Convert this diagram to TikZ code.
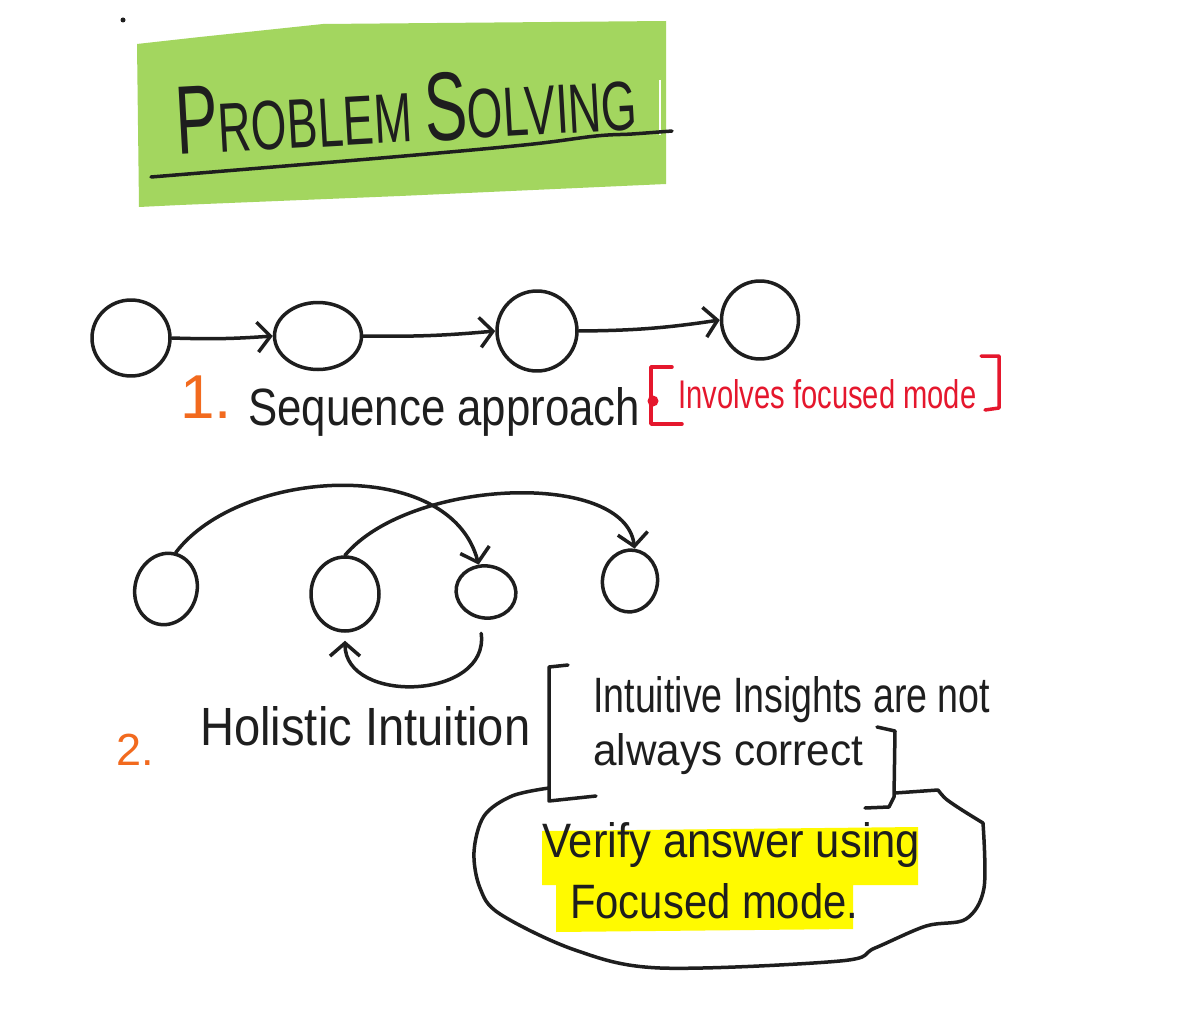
\documentclass[tikz,border=0pt]{standalone}
\usepackage{fontspec}
\usepackage{graphicx}
\setmainfont{Liberation Sans}
\usetikzlibrary{arrows.meta,shapes.geometric}
\definecolor{titlegreen}{HTML}{A3D65F}
\definecolor{penred}{HTML}{E5172D}
\definecolor{penorange}{HTML}{F26A1E}
\definecolor{hlyellow}{HTML}{FFFA00}
\definecolor{ink}{HTML}{1E1E1E}
\begin{document}
\begin{tikzpicture}[x=1pt,y=-1pt,
  pen/.style={line width=3.5pt, line cap=round, line join=round},
  bubble/.style={pen, draw=ink, ellipse, inner sep=0pt},
  link/.style={pen, draw=ink, -{Straight Barb[length=13pt,width=30pt]}},
  hand/.style={inner sep=0pt, anchor=base west, text=ink},
]
\useasboundingbox[fill=white] (0,0) rectangle (1203,1014);

% stray dot
\fill[ink] (123,20) circle (2.5);

% title block
\fill[titlegreen] (137,44) -- (200,37) -- (323,24) -- (666,21) -- (666,184) -- (400,196) -- (180,205) -- (139,207) -- cycle;
\draw[white, line width=2pt] (660,80) -- (660,135);
\node[hand, rotate=3.2] (title) at (177,155)
  {\resizebox{462pt}{68pt}{\fontsize{60}{60}\selectfont P\fontsize{43}{43}\selectfont ROBLEM\ \fontsize{60}{60}\selectfont S\fontsize{43}{43}\selectfont OLVING}};
\draw[pen, draw=ink] plot[smooth, tension=0.6] coordinates {(151,177) (381,158) (524,145) (596,136) (632,134) (672,131)};

% row 1: sequence
\node[bubble, minimum width=78pt, minimum height=76pt] (c1) at (131,338) {};
\node[bubble, minimum width=87pt, minimum height=67pt] (c2) at (318,336) {};
\node[bubble, minimum width=80pt, minimum height=80pt] (c3) at (537,331) {};
\node[bubble, minimum width=77pt, minimum height=78pt] (c4) at (760,320) {};
\draw[link] (c1.east) to[bend right=3] (c2.west);
\draw[link] (c2.east) to[bend right=3] (c3.west);
\draw[link] (c3.east) to[bend right=4] (c4.west);

\node[hand, text=penorange] (n1) at (180,418) {\fontsize{62}{62}\selectfont 1.};
\node[hand] (seq) at (248,425) {\resizebox{392pt}{38pt}{Sequence approach}};
\fill[penred] (653,401) circle (5.5);
\draw[pen, draw=penred] (672,367) -- (651,367) -- (651,424) -- (682,424);
\node[hand, text=penred] (focus1) at (678,408) {\resizebox{298pt}{29pt}{Involves focused mode}};
\draw[pen, draw=penred] (981,356) -- (999,356) -- (999,408) -- (985,410);

% row 2: holistic
\node[bubble, minimum width=62pt, minimum height=72pt, rotate=-15] (d1) at (166,589) {};
\node[bubble, minimum width=68pt, minimum height=74pt] (d2) at (345,594) {};
\node[bubble, minimum width=60pt, minimum height=52pt, rotate=-10] (d3) at (486,592) {};
\node[bubble, minimum width=55pt, minimum height=62pt, rotate=-8] (d4) at (630,581) {};
\draw[link] (d1.north) .. controls (240,468) and (450,455) .. (d3.115);
\draw[link] (d2.north) .. controls (410,478) and (625,470) .. (d4.north);
\draw[link] ([yshift=-14pt]d3.south) .. controls (490,700) and (345,705) .. ([yshift=-8pt]d2.south);

\node[hand, text=penorange] (n2) at (116,765) {\fontsize{45}{45}\selectfont 2.};
\node[hand] (holi) at (200,745) {\resizebox{330pt}{39pt}{Holistic Intuition}};

% bracket note
\draw[pen, draw=ink] (568,665) -- (549,667) -- (549,801) -- (596,796);
\node[hand] (ins1) at (593,712) {\resizebox{397pt}{36pt}{Intuitive Insights are not}};
\node[hand] (ins2) at (593,765) {\resizebox{270pt}{32pt}{always correct}};
\draw[pen, draw=ink] (877,727) -- (895,731) -- (894,797) -- (889,807) -- (865,808);

% highlight and cloud
\fill[hlyellow] (542,831) -- (918,827) -- (918,885) -- (853,885) -- (853,929) -- (556,932) -- (556,885) -- (542,885) -- cycle;
\node[hand] (ver1) at (542,857) {\resizebox{378pt}{35pt}{Verify answer using}};
\node[hand] (ver2) at (570,918) {\resizebox{288pt}{35pt}{Focused mode.}};
\draw[pen, draw=ink] plot[smooth, tension=0.55] coordinates {(549,788) (512,796) (484,816) (474,852) (480,888) (500,914) (575,950) (660,968) (840,961) (875,948) (926,926) (966,919) (984,888) (983,823)};
\draw[pen, draw=ink] plot[smooth, tension=0.5] coordinates {(983,823) (962,810) (946,799) (938,790)} -- (895,793);
\end{tikzpicture}
\end{document}
